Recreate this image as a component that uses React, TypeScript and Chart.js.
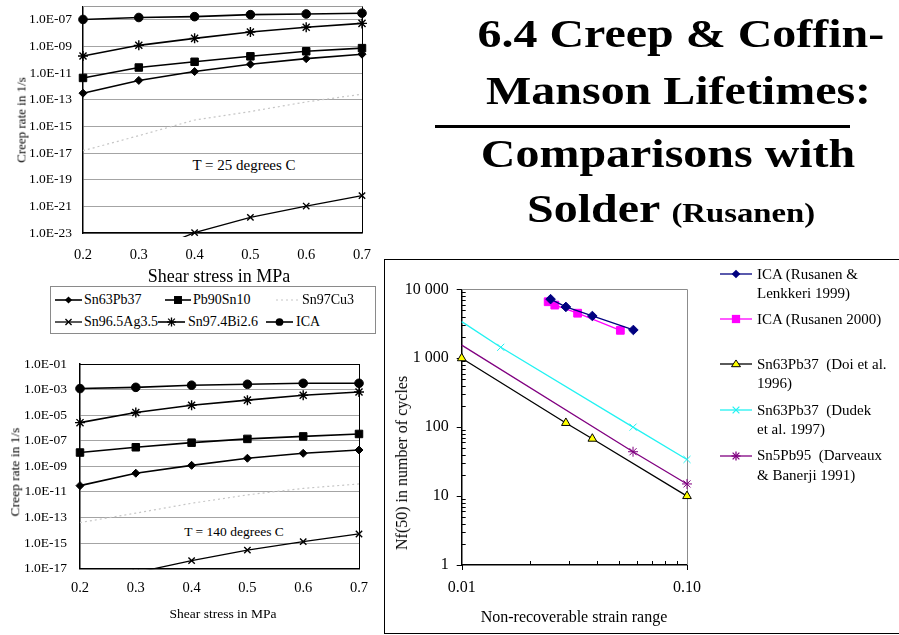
import React, { useEffect, useRef } from 'react';
import { Chart, registerables } from 'chart.js';

Chart.register(...registerables);

const SERIF = '"Liberation Serif", "Times New Roman", Times, serif';

// ---------------- Creep-rate charts (left) ----------------
const shearStress = [0.2, 0.3, 0.4, 0.5, 0.6, 0.7];
const shearStressTickLabels = ['0.2', '0.3', '0.4', '0.5', '0.6', '0.7'];
const alloyNames = ['Sn63Pb37', 'Pb90Sn10', 'Sn97Cu3', 'Sn96.5Ag3.5', 'Sn97.4Bi2.6', 'ICA'];

// T = 25 degrees C
const creep25Sn63Pb37 = [3.1e-13, 2.8e-12, 1.3e-11, 4.6e-11, 1.2e-10, 2.6e-10];
const creep25Pb90Sn10 = [4.3e-12, 2.6e-11, 7.0e-11, 1.8e-10, 4.3e-10, 7.4e-10];
const creep25Sn97Cu3 = [1.5e-17, 2.0e-16, 3.0e-15, 1.3e-14, 6.8e-14, 2.6e-13];
const creep25Sn965Ag35 = [1.0e-26, 2.0e-25, 1.07e-23, 1.5e-22, 1.05e-21, 6.3e-21];
const creep25Sn974Bi26 = [1.9e-10, 1.2e-9, 4.0e-9, 1.2e-8, 2.7e-8, 5.3e-8];
const creep25ICA = [1.05e-7, 1.47e-7, 1.7e-7, 2.4e-7, 2.7e-7, 3.1e-7];
const creep25Ticks = [1e-23, 1e-21, 1e-19, 1e-17, 1e-15, 1e-13, 1e-11, 1e-9, 1e-7];
const creep25TickLabels = ['1.0E-23', '1.0E-21', '1.0E-19', '1.0E-17', '1.0E-15', '1.0E-13', '1.0E-11', '1.0E-09', '1.0E-07'];

// T = 140 degrees C
const creep140Sn63Pb37 = [3.1e-11, 2.9e-10, 1.2e-9, 4.3e-9, 1.05e-8, 1.9e-8];
const creep140Pb90Sn10 = [1.2e-8, 3.1e-8, 7.1e-8, 1.4e-7, 2.2e-7, 3.4e-7];
const creep140Sn97Cu3 = [4.0e-14, 2.2e-13, 1.3e-12, 5.9e-12, 1.9e-11, 4.2e-11];
const creep140Sn965Ag35 = [1.0e-19, 4.9e-18, 4.3e-17, 2.8e-16, 1.3e-15, 5.2e-15];
const creep140Sn974Bi26 = [2.6e-6, 1.6e-5, 5.9e-5, 1.5e-4, 3.6e-4, 6.5e-4];
const creep140ICA = [1.2e-3, 1.5e-3, 2.2e-3, 2.6e-3, 3.1e-3, 3.1e-3];
const creep140Ticks = [1e-17, 1e-15, 1e-13, 1e-11, 1e-9, 1e-7, 1e-5, 1e-3, 1e-1];
const creep140TickLabels = ['1.0E-17', '1.0E-15', '1.0E-13', '1.0E-11', '1.0E-09', '1.0E-07', '1.0E-05', '1.0E-03', '1.0E-01'];

// ---------------- Coffin-Manson chart (right) ----------------
const icaLenkkeriStrain = [0.0248, 0.029, 0.038, 0.0578];
const icaLenkkeriCycles = [7200, 5550, 4100, 2570];
const ica2000Strain = [0.0242, 0.0259, 0.0327, 0.0506];
const ica2000Cycles = [6600, 5900, 4500, 2540];
const doiStrain = [0.01, 0.029, 0.038, 0.1];
const doiCycles = [1000, 115, 68, 10];
const dudekStrain = [0.01, 0.0149, 0.0576, 0.1];
const dudekCycles = [3400, 1440, 100, 34];
const darveauxStrain = [0.01, 0.0576, 0.1];
const darveauxCycles = [1550, 44, 15];
const fatigueLabels = [
  ['ICA (Rusanen &', 'Lenkkeri 1999)'],
  ['ICA (Rusanen 2000)'],
  ['Sn63Pb37  (Doi et al.', '1996)'],
  ['Sn63Pb37  (Dudek', 'et al. 1997)'],
  ['Sn5Pb95  (Darveaux', '& Banerji 1991)'],
];
const cycleTicks = [1, 10, 100, 1000, 10000];
const cycleTickLabels = ['1', '10', '100', '1 000', '10 000'];
const strainTicks = [0.01, 0.1];
const strainTickLabels = ['0.01', '0.10'];
const logMinorMultipliers = [2, 3, 4, 5, 6, 7, 8, 9];

// ---------------- styles ----------------
type Sym = { kind: string; color: string; fill: string; radius: number; width: number; dash: number[] };
const alloyStyles: Sym[] = [
  { kind: 'rectRot', color: '#000', fill: '#000', radius: 4, width: 1.6, dash: [] },
  { kind: 'rect', color: '#000', fill: '#000', radius: 5.3, width: 1.6, dash: [] },
  { kind: 'none', color: '#c6c6c6', fill: '#c6c6c6', radius: 0, width: 1.2, dash: [2, 3] },
  { kind: 'crossRot', color: '#000', fill: '#000', radius: 4.5, width: 1.3, dash: [] },
  { kind: 'star', color: '#000', fill: '#000', radius: 5, width: 1.6, dash: [] },
  { kind: 'circle', color: '#000', fill: '#000', radius: 4.3, width: 1.6, dash: [] },
];
const fatigueStyles: Sym[] = [
  { kind: 'rectRot', color: '#000080', fill: '#000080', radius: 4.8, width: 1.3, dash: [] },
  { kind: 'rect', color: '#ff00ff', fill: '#ff00ff', radius: 5.5, width: 1.3, dash: [] },
  { kind: 'triangle', color: '#000', fill: '#ffff00', radius: 5, width: 1.3, dash: [] },
  { kind: 'crossRot', color: '#22f2f2', fill: '#22f2f2', radius: 5, width: 1.3, dash: [] },
  { kind: 'star', color: '#800080', fill: '#800080', radius: 5, width: 1.3, dash: [] },
];

const zip = (xs: number[], ys: number[]) => xs.map((x, i) => ({ x, y: ys[i] }));

function framePlugin(topColor: string, rightColor: string) {
  return {
    id: 'frame',
    beforeDatasetsDraw(chart: any) {
      const { ctx, chartArea: a } = chart;
      ctx.save();
      ctx.lineWidth = 1;
      ctx.strokeStyle = topColor;
      ctx.beginPath();
      ctx.moveTo(a.left, Math.round(a.top) + 0.5);
      ctx.lineTo(a.right, Math.round(a.top) + 0.5);
      ctx.stroke();
      ctx.strokeStyle = rightColor;
      ctx.beginPath();
      ctx.moveTo(Math.round(a.right) + 0.5, a.top);
      ctx.lineTo(Math.round(a.right) + 0.5, a.bottom);
      ctx.stroke();
      ctx.restore();
    },
  };
}

const axisTickPlugin = {
  id: 'axisTicks',
  beforeDatasetsDraw(chart: any) {
    const { ctx, chartArea: a, scales } = chart;
    const x = scales.x;
    const y = scales.y;
    ctx.save();
    ctx.strokeStyle = '#000';
    ctx.lineWidth = 1;
    ctx.beginPath();
    cycleTicks.forEach((v) => {
      const p = Math.round(y.getPixelForValue(v)) + 0.5;
      ctx.moveTo(a.left - 5, p);
      ctx.lineTo(a.left, p);
    });
    cycleTicks.slice(0, -1).forEach((v) =>
      logMinorMultipliers.forEach((m) => {
        const p = Math.round(y.getPixelForValue(v * m)) + 0.5;
        ctx.moveTo(a.left, p);
        ctx.lineTo(a.left + 4, p);
      })
    );
    strainTicks.forEach((v) => {
      const p = Math.round(x.getPixelForValue(v)) + 0.5;
      ctx.moveTo(p, a.bottom);
      ctx.lineTo(p, a.bottom + 5);
    });
    strainTicks.slice(0, -1).forEach((v) =>
      logMinorMultipliers.forEach((m) => {
        const p = Math.round(x.getPixelForValue(v * m)) + 0.5;
        ctx.moveTo(p, a.bottom);
        ctx.lineTo(p, a.bottom - 4);
      })
    );
    ctx.stroke();
    ctx.restore();
  },
};

type Geom = { yAxisW: number; xAxisH: number; padTop: number; padRight: number; yPad: number; xPad: number; clipBottom: number };

function creepConfig(series: number[][], ticks: number[], labels: string[], min: number, max: number, g: Geom, topColor: string): any {
  return {
    type: 'line',
    data: {
      datasets: series.map((vals, i) => {
        const s = alloyStyles[i];
        return {
          label: alloyNames[i],
          data: zip(shearStress, vals),
          borderColor: s.color,
          backgroundColor: s.fill,
          borderWidth: s.width,
          borderDash: s.dash,
          pointStyle: s.kind === 'none' ? 'circle' : s.kind,
          pointRadius: s.radius,
          pointBorderWidth: s.kind === 'crossRot' || s.kind === 'star' ? 1.4 : 1,
          pointBorderColor: s.color,
          pointBackgroundColor: s.fill,
          tension: 0,
          clip: i === 3 ? { left: 8, right: 8, top: 8, bottom: g.clipBottom } : 8,
        };
      }),
    },
    options: {
      responsive: false,
      animation: false,
      devicePixelRatio: 1,
      events: [],
      layout: { padding: { top: g.padTop, right: g.padRight, left: 0, bottom: 0 } },
      plugins: { legend: { display: false }, tooltip: { enabled: false } },
      scales: {
        x: {
          type: 'linear',
          min: 0.2,
          max: 0.7,
          afterBuildTicks: (s: any) => {
            s.ticks = shearStress.map((v) => ({ value: v }));
          },
          ticks: {
            callback: (_v: any, i: number) => shearStressTickLabels[i],
            font: { family: SERIF, size: 14.5 },
            color: '#000',
            padding: g.xPad,
            maxRotation: 0,
            autoSkip: false,
          },
          grid: { display: false, drawTicks: false },
          border: { display: true, color: '#000', width: 1.5 },
          afterFit: (s: any) => {
            s.height = g.xAxisH;
            s.paddingLeft = 0;
            s.paddingRight = 0;
          },
        },
        y: {
          type: 'logarithmic',
          min,
          max,
          afterBuildTicks: (s: any) => {
            s.ticks = ticks.map((v) => ({ value: v }));
          },
          ticks: {
            callback: (_v: any, i: number) => labels[i],
            font: { family: SERIF, size: 13.5 },
            color: '#000',
            padding: g.yPad,
            autoSkip: false,
          },
          grid: { color: '#a4a4a4', lineWidth: 1, drawTicks: false },
          border: { display: true, color: '#000', width: 1.5 },
          afterFit: (s: any) => {
            s.width = g.yAxisW;
            s.paddingTop = 0;
            s.paddingBottom = 0;
          },
        },
      },
    },
    plugins: [framePlugin(topColor, '#000')],
  };
}

const fatigueData = [
  zip(icaLenkkeriStrain, icaLenkkeriCycles),
  zip(ica2000Strain, ica2000Cycles),
  zip(doiStrain, doiCycles),
  zip(dudekStrain, dudekCycles),
  zip(darveauxStrain, darveauxCycles),
];

function fatigueConfig(): any {
  return {
    type: 'line',
    data: {
      datasets: fatigueData.map((d, i) => {
        const s = fatigueStyles[i];
        const radius = d.map((p) => (i >= 3 && p.x === 0.01 ? 0 : s.radius));
        return {
          label: fatigueLabels[i].join(' '),
          data: d,
          borderColor: s.color,
          backgroundColor: s.fill,
          borderWidth: s.width,
          pointStyle: s.kind,
          pointRadius: radius,
          pointBorderColor: s.kind === 'triangle' ? '#000' : s.color,
          pointBackgroundColor: s.fill,
          pointBorderWidth: 1,
          tension: 0,
          clip: false,
        };
      }),
    },
    options: {
      responsive: false,
      animation: false,
      devicePixelRatio: 1,
      events: [],
      layout: { padding: { top: 29.3, right: 29, left: 0, bottom: 0 } },
      plugins: { legend: { display: false }, tooltip: { enabled: false } },
      scales: {
        x: {
          type: 'logarithmic',
          min: 0.01,
          max: 0.1,
          afterBuildTicks: (s: any) => {
            s.ticks = strainTicks.map((v) => ({ value: v }));
          },
          ticks: {
            callback: (_v: any, i: number) => strainTickLabels[i],
            font: { family: SERIF, size: 16 },
            color: '#000',
            padding: 13.4,
            maxRotation: 0,
            autoSkip: false,
          },
          grid: { display: false, drawTicks: false },
          border: { display: true, color: '#000', width: 1.5 },
          afterFit: (s: any) => {
            s.height = 45;
            s.paddingLeft = 0;
            s.paddingRight = 0;
          },
        },
        y: {
          type: 'logarithmic',
          min: 1,
          max: 10000,
          afterBuildTicks: (s: any) => {
            s.ticks = cycleTicks.map((v) => ({ value: v }));
          },
          ticks: {
            callback: (_v: any, i: number) => cycleTickLabels[i],
            font: { family: SERIF, size: 16 },
            color: '#000',
            padding: 13,
            autoSkip: false,
          },
          grid: { display: false, drawTicks: false },
          border: { display: true, color: '#000', width: 1.5 },
          afterFit: (s: any) => {
            s.width = 75.7;
            s.paddingTop = 0;
            s.paddingBottom = 0;
          },
        },
      },
    },
    plugins: [framePlugin('#8c8c8c', '#8c8c8c'), axisTickPlugin],
  };
}

function ChartCanvas({ left, top, width, height, makeConfig }: { left: number; top: number; width: number; height: number; makeConfig: () => any }) {
  const ref = useRef<HTMLCanvasElement>(null);
  useEffect(() => {
    const chart = new Chart(ref.current as HTMLCanvasElement, makeConfig());
    return () => chart.destroy();
  }, []);
  return <canvas ref={ref} width={width} height={height} style={{ position: 'absolute', left, top, width, height }} />;
}

function Txt({ x, y, size, children, align = 'left', style = {} }: any) {
  const base: any = {
    position: 'absolute',
    top: y - size / 2,
    fontSize: size,
    lineHeight: `${size}px`,
    whiteSpace: 'pre',
    fontFamily: SERIF,
    color: '#000',
  };
  if (align === 'center') {
    base.left = x - 400;
    base.width = 800;
    base.textAlign = 'center';
  } else {
    base.left = x;
  }
  return <div style={{ ...base, ...style }}>{children}</div>;
}

function VTxt({ x, y, size, children }: any) {
  return (
    <div
      style={{
        position: 'absolute',
        left: x,
        top: y,
        transform: 'translate(-50%,-50%) rotate(-90deg)',
        fontSize: size,
        lineHeight: `${size}px`,
        whiteSpace: 'nowrap',
        fontFamily: SERIF,
        color: '#000',
      }}
    >
      {children}
    </div>
  );
}

function Symbol({ x, y, w, s }: { x: number; y: number; w: number; s: Sym }) {
  const h = 14;
  const cx = w / 2;
  const cy = h / 2;
  const r = s.kind === 'rect' ? s.radius * 0.75 : s.radius * 0.9;
  let marker: any = null;
  if (s.kind === 'rectRot') marker = <polygon points={`${cx - r},${cy} ${cx},${cy - r} ${cx + r},${cy} ${cx},${cy + r}`} fill={s.fill} />;
  else if (s.kind === 'rect') marker = <rect x={cx - r} y={cy - r} width={2 * r} height={2 * r} fill={s.fill} />;
  else if (s.kind === 'circle') marker = <circle cx={cx} cy={cy} r={r} fill={s.fill} />;
  else if (s.kind === 'triangle')
    marker = <polygon points={`${cx - r},${cy + r * 0.6} ${cx + r},${cy + r * 0.6} ${cx},${cy - r * 0.9}`} fill={s.fill} stroke="#000" strokeWidth={1} />;
  else if (s.kind === 'crossRot' || s.kind === 'star') {
    const d = r * 0.75;
    marker = (
      <g stroke={s.color} strokeWidth={1.3}>
        <line x1={cx - d} y1={cy - d} x2={cx + d} y2={cy + d} />
        <line x1={cx - d} y1={cy + d} x2={cx + d} y2={cy - d} />
        {s.kind === 'star' && <line x1={cx} y1={cy - r} x2={cx} y2={cy + r} />}
        {s.kind === 'star' && <line x1={cx - r} y1={cy} x2={cx + r} y2={cy} />}
      </g>
    );
  }
  return (
    <svg width={w} height={h} style={{ position: 'absolute', left: x, top: y - cy }}>
      <line x1={0} y1={cy} x2={w} y2={cy} stroke={s.color} strokeWidth={s.width} strokeDasharray={s.dash.join(' ')} />
      {marker}
    </svg>
  );
}

const alloyLegendSlots = [
  { sx: 55, tx: 84, y: 299.5, w: 27 },
  { sx: 165, tx: 193, y: 299.5, w: 26 },
  { sx: 276, tx: 302, y: 299.5, w: 22 },
  { sx: 55, tx: 84, y: 322, w: 27 },
  { sx: 158, tx: 188, y: 322, w: 27 },
  { sx: 266, tx: 296, y: 322, w: 27 },
];
const fatigueLegendRows = [274, 319, 364, 410, 455.7];

export default function App() {
  const titleSpan: any = { display: 'inline-block', transform: 'scaleX(1.17)', fontWeight: 'bold' };
  return (
    <div style={{ position: 'absolute', left: 0, top: 0, width: 899, height: 635, background: '#fff', overflow: 'hidden', fontFamily: SERIF }}>
      {/* Creep rate, 25 C */}
      <ChartCanvas
        left={0}
        top={0}
        width={380}
        height={280}
        makeConfig={() =>
          creepConfig(
            [creep25Sn63Pb37, creep25Pb90Sn10, creep25Sn97Cu3, creep25Sn965Ag35, creep25Sn974Bi26, creep25ICA],
            creep25Ticks,
            creep25TickLabels,
            1e-23,
            1e-6,
            { yAxisW: 83, xAxisH: 47, padTop: 0, padRight: 18, yPad: 11, xPad: 13.3, clipBottom: 4 },
            '#9a9a9a'
          )
        }
      />
      <VTxt x={20.7} y={120} size={13}>Creep rate in 1/s</VTxt>
      <Txt x={219} y={275.5} size={18} align="center">Shear stress in MPa</Txt>
      <Txt x={244} y={165.7} size={15} align="center">
        <span style={{ background: '#fff', padding: '0 3px' }}>T = 25 degrees C</span>
      </Txt>

      {/* legend of creep charts */}
      <div style={{ position: 'absolute', left: 50, top: 286, width: 326, height: 48, border: '1px solid #8a8a8a', boxSizing: 'border-box' }} />
      {alloyNames.map((n, i) => {
        const sl = alloyLegendSlots[i];
        return (
          <React.Fragment key={n}>
            <Symbol x={sl.sx} y={sl.y} w={sl.w} s={alloyStyles[i]} />
            <Txt x={sl.tx} y={sl.y} size={14}>{n}</Txt>
          </React.Fragment>
        );
      })}

      {/* Creep rate, 140 C */}
      <ChartCanvas
        left={0}
        top={340}
        width={380}
        height={270}
        makeConfig={() =>
          creepConfig(
            [creep140Sn63Pb37, creep140Pb90Sn10, creep140Sn97Cu3, creep140Sn965Ag35, creep140Sn974Bi26, creep140ICA],
            creep140Ticks,
            creep140TickLabels,
            1e-17,
            1e-1,
            { yAxisW: 80, xAxisH: 41.3, padTop: 24, padRight: 21, yPad: 13, xPad: 10.9, clipBottom: 0.5 },
            '#000'
          )
        }
      />
      <VTxt x={15} y={472} size={13.5}>Creep rate in 1/s</VTxt>
      <Txt x={223} y={614} size={13.5} align="center">Shear stress in MPa</Txt>
      <Txt x={234} y={531.7} size={13.5} align="center">
        <span style={{ background: '#fff', padding: '0 3px' }}>T = 140 degrees C</span>
      </Txt>

      {/* Coffin-Manson frame and chart */}
      <div style={{ position: 'absolute', left: 384, top: 259, width: 530, height: 375, borderLeft: '1px solid #000', borderTop: '1px solid #000', borderBottom: '1px solid #000', boxSizing: 'border-box' }} />
      <ChartCanvas left={386} top={260} width={330} height={350} makeConfig={fatigueConfig} />
      <VTxt x={402.3} y={463} size={16}>Nf(50) in number of cycles</VTxt>
      <Txt x={574} y={616.7} size={16} align="center">Non-recoverable strain range</Txt>
      {fatigueLabels.map((lines, i) => (
        <React.Fragment key={i}>
          <Symbol x={720} y={fatigueLegendRows[i]} w={32} s={fatigueStyles[i]} />
          {lines.map((t, j) => (
            <Txt key={j} x={757} y={fatigueLegendRows[i] + j * 19.3} size={15}>{t}</Txt>
          ))}
        </React.Fragment>
      ))}

      {/* Slide title */}
      <Txt x={681} y={33.7} size={41} align="center"><span style={titleSpan}>6.4 Creep &amp; Coffin-</span></Txt>
      <Txt x={679} y={90} size={41} align="center"><span style={titleSpan}>Manson Lifetimes:</span></Txt>
      <div style={{ position: 'absolute', left: 435, top: 124.5, width: 415, height: 3, background: '#000' }} />
      <Txt x={668} y={153} size={41} align="center"><span style={titleSpan}>Comparisons with</span></Txt>
      <Txt x={671} y={208} size={41} align="center">
        <span style={titleSpan}>
          Solder <span style={{ fontSize: 28 }}>(Rusanen)</span>
        </span>
      </Txt>
    </div>
  );
}
